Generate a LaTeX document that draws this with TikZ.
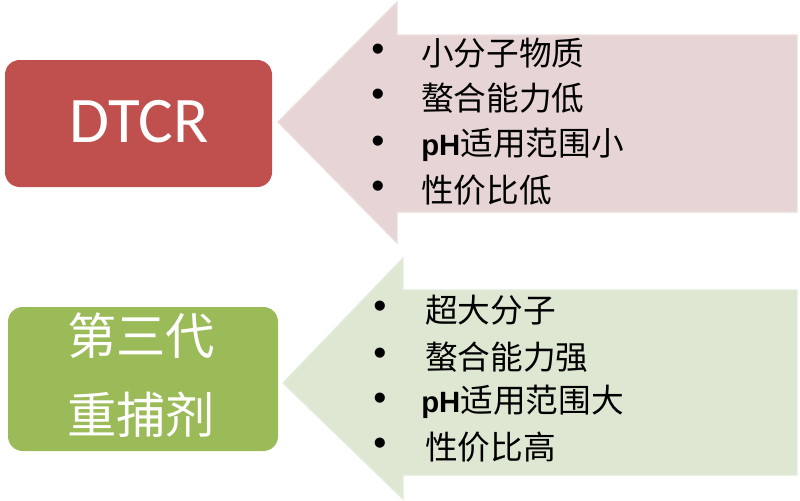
\documentclass[tikz,border=0pt]{standalone}
\usepackage{fontspec}
\setmainfont{Liberation Sans}
\newfontfamily\cjk{Noto Sans CJK SC}
\newfontfamily\cali{Carlito}
\newfontfamily\arb{Liberation Sans}
\begin{document}
\begin{tikzpicture}[x=0.75pt,y=-0.75pt,
  box/.style={rounded corners=11pt,inner sep=0pt},
  item/.style={anchor=west,inner sep=0pt,font=\cjk\fontsize{24.5}{24.5}\selectfont},
  bul/.style={inner sep=0pt,font=\arb\fontsize{28}{28}\selectfont}]
\useasboundingbox (0,0) rectangle (800,500);
% top arrow
\fill[fill={rgb,255:red,231;green,213;blue,213},draw={rgb,255:red,236;green,222;blue,222},line width=1pt]
  (797,35) -- (397,35) -- (397,2) -- (278,122) -- (397,243) -- (397,212) -- (797,212) -- cycle;
% bottom arrow
\fill[fill={rgb,255:red,222;green,231;blue,210},draw={rgb,255:red,228;green,236;blue,220},line width=1pt]
  (797,290) -- (403,290) -- (403,258) -- (283,383) -- (403,499) -- (403,475) -- (797,475) -- cycle;
% boxes
\fill[box,fill={rgb,255:red,192;green,80;blue,77}] (5,60) rectangle (272,187);
\node[text=white,font=\cali\fontsize{48.75}{48.75}\selectfont] (dtcr) at (139,122) {DTCR};
\fill[box,fill={rgb,255:red,155;green,187;blue,89}] (8,307) rectangle (278,451);
\node[text=white,font=\cjk\fontsize{37}{37}\selectfont] (g1) at (141,336) {第三代};
\node[text=white,font=\cjk\fontsize{37}{37}\selectfont] (g2) at (141,415) {重捕剂};
% top list
\foreach \n/\y/\t in {a1/53/{小分子物质},a2/98/{螯合能力低},a4/190/{性价比低}}{
  \node[bul] (b\n) at (378,\y) {•};
  \node[item] (\n) at (421,\y) {\t};
}
\node[bul] (ba3) at (378,145) {•};
\node[item] (a3) at (421,145) {{\arb\bfseries\fontsize{22}{22}\selectfont pH}适用范围小};
% bottom list
\foreach \n/\y/\t in {c1/310/{超大分子},c2/357/{螯合能力强},c4/447/{性价比高}}{
  \node[bul] (b\n) at (380,\y) {•};
  \node[item] (\n) at (425,\y) {\t};
}
\node[bul] (bc3) at (380,402) {•};
\node[item] (c3) at (421,402) {{\arb\bfseries\fontsize{22}{22}\selectfont pH}适用范围大};
\end{tikzpicture}
\end{document}
